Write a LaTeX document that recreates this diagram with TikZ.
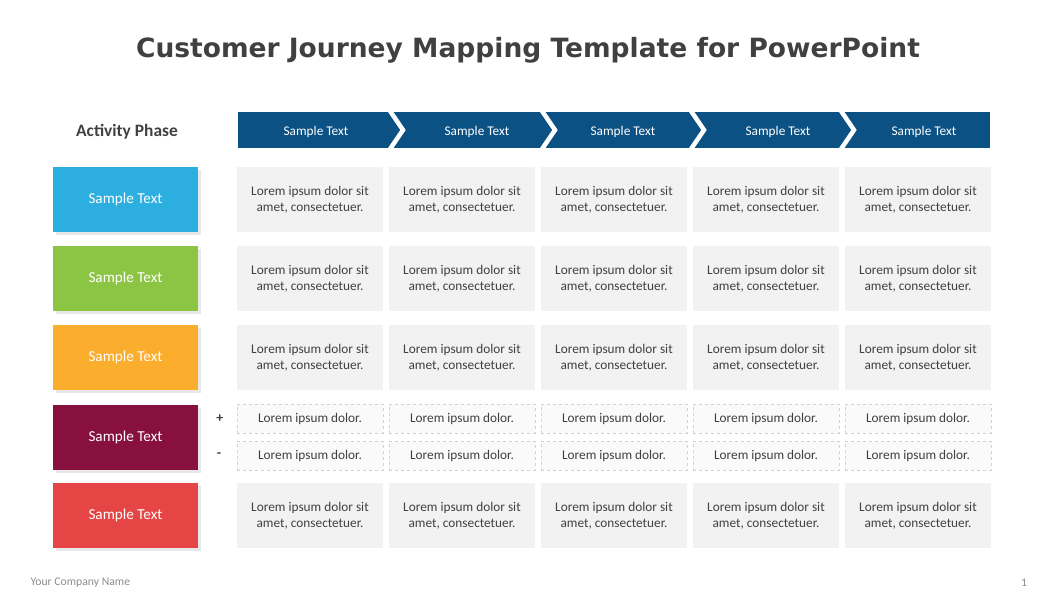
\documentclass[tikz,border=0pt]{standalone}
\usepackage{fontspec}
\setmainfont{Carlito}
\newfontfamily\titlefont{DejaVu Sans}
\usetikzlibrary{shadows,positioning}
\definecolor{headblue}{HTML}{0B5184}
\definecolor{phaseA}{HTML}{2DAEE1}
\definecolor{phaseB}{HTML}{8CC543}
\definecolor{phaseC}{HTML}{FBAD2D}
\definecolor{phaseD}{HTML}{88103F}
\definecolor{phaseE}{HTML}{E64546}
\definecolor{cellgray}{HTML}{F2F2F2}
\definecolor{textgray}{HTML}{404040}
\tikzstyle{phasebox}=[
  minimum width=145pt,minimum height=65pt,inner sep=0pt,text=white,
  font=\fontsize{15.2}{17}\selectfont,
  drop shadow={shadow xshift=3pt,shadow yshift=-3pt,opacity=0.18}
]
\tikzstyle{cellbox}=[
  fill=cellgray,minimum width=146pt,minimum height=65pt,inner sep=0pt,
  text=textgray,align=center,font=\fontsize{13.3}{16}\selectfont
]
\tikzstyle{dashcell}=[
  draw=black!18,dashed,fill=black!2,minimum width=146pt,minimum height=29pt,
  inner sep=0pt,text=textgray,font=\fontsize{13.3}{15}\selectfont
]
\tikzstyle{headtext}=[
  text=white,font=\fontsize{13.3}{15}\selectfont
]
\tikzstyle{chevron}=[
  draw=white,line width=4.5pt,line join=miter
]

\begin{document}
\begin{tikzpicture}[x=1pt,y=-1pt]
  \useasboundingbox (0,0) rectangle (1060,596);
  % title and footer
  \node (title) at (528,50) [text=textgray,font=\titlefont\bfseries\fontsize{26.5}{30}\selectfont]
    {Customer Journey Mapping Template for PowerPoint};
  \node (company) at (27,583) [anchor=west,text=black!45,font=\fontsize{11.7}{13}\selectfont] {Your Company Name};
  \node (pagenum) at (1024,583) [text=black!45,font=\fontsize{11.7}{13}\selectfont] {1};
  % header strip
  \node (activity) at (127,131.5) [text=textgray,font=\bfseries\fontsize{17.4}{19}\selectfont] {Activity Phase};
  \fill [headblue] (238,112) rectangle (990,148);
  \begin{scope}
    \clip (238,112) rectangle (990,148);
    \foreach \cx in {388,540,689,839}
      \draw [chevron] (\cx,108) -- (\cx+15,130) -- (\cx,152);
  \end{scope}
  \foreach \h/\hx in {1/316,2/477,3/623,4/778,5/924}
    \node (head\h) at (\hx,131.5) [headtext] {Sample Text};
  % phases
  \foreach \r/\ry/\col in {1/199.5/phaseA,2/278.5/phaseB,3/357.5/phaseC,5/515.5/phaseE}
    \node (phase\r) at (125.5,\ry) [phasebox,fill=\col] {\raisebox{-1pt}{Sample Text}};
  \node (phase4) at (125.5,437) [phasebox,fill=phaseD] {\raisebox{-1pt}{Sample Text}};
  % cells
  \foreach \r/\ry in {1/199.5,2/278.5,3/357.5,5/515.5}
    \foreach \c/\cx in {1/310,2/462,3/614,4/766,5/918}
      \node (cell-\r-\c) at (\cx,\ry) [cellbox] {Lorem ipsum dolor sit\\amet, consectetuer.};
  \foreach \c/\cx in {1/310,2/462,3/614,4/766,5/918} {
    \node (plus-\c) at (\cx,418.5) [dashcell] {\raisebox{-2pt}{Lorem ipsum dolor.}};
    \node (minus-\c) at (\cx,455.5) [dashcell] {\raisebox{-2pt}{Lorem ipsum dolor.}};
  }
  \node (plus) [left=10pt of plus-1,text=textgray,font=\bfseries\fontsize{14}{16}\selectfont] {+};
  \node (minus) [left=12pt of minus-1,text=textgray,font=\bfseries\fontsize{14}{16}\selectfont] {-};
\end{tikzpicture}
\end{document}
